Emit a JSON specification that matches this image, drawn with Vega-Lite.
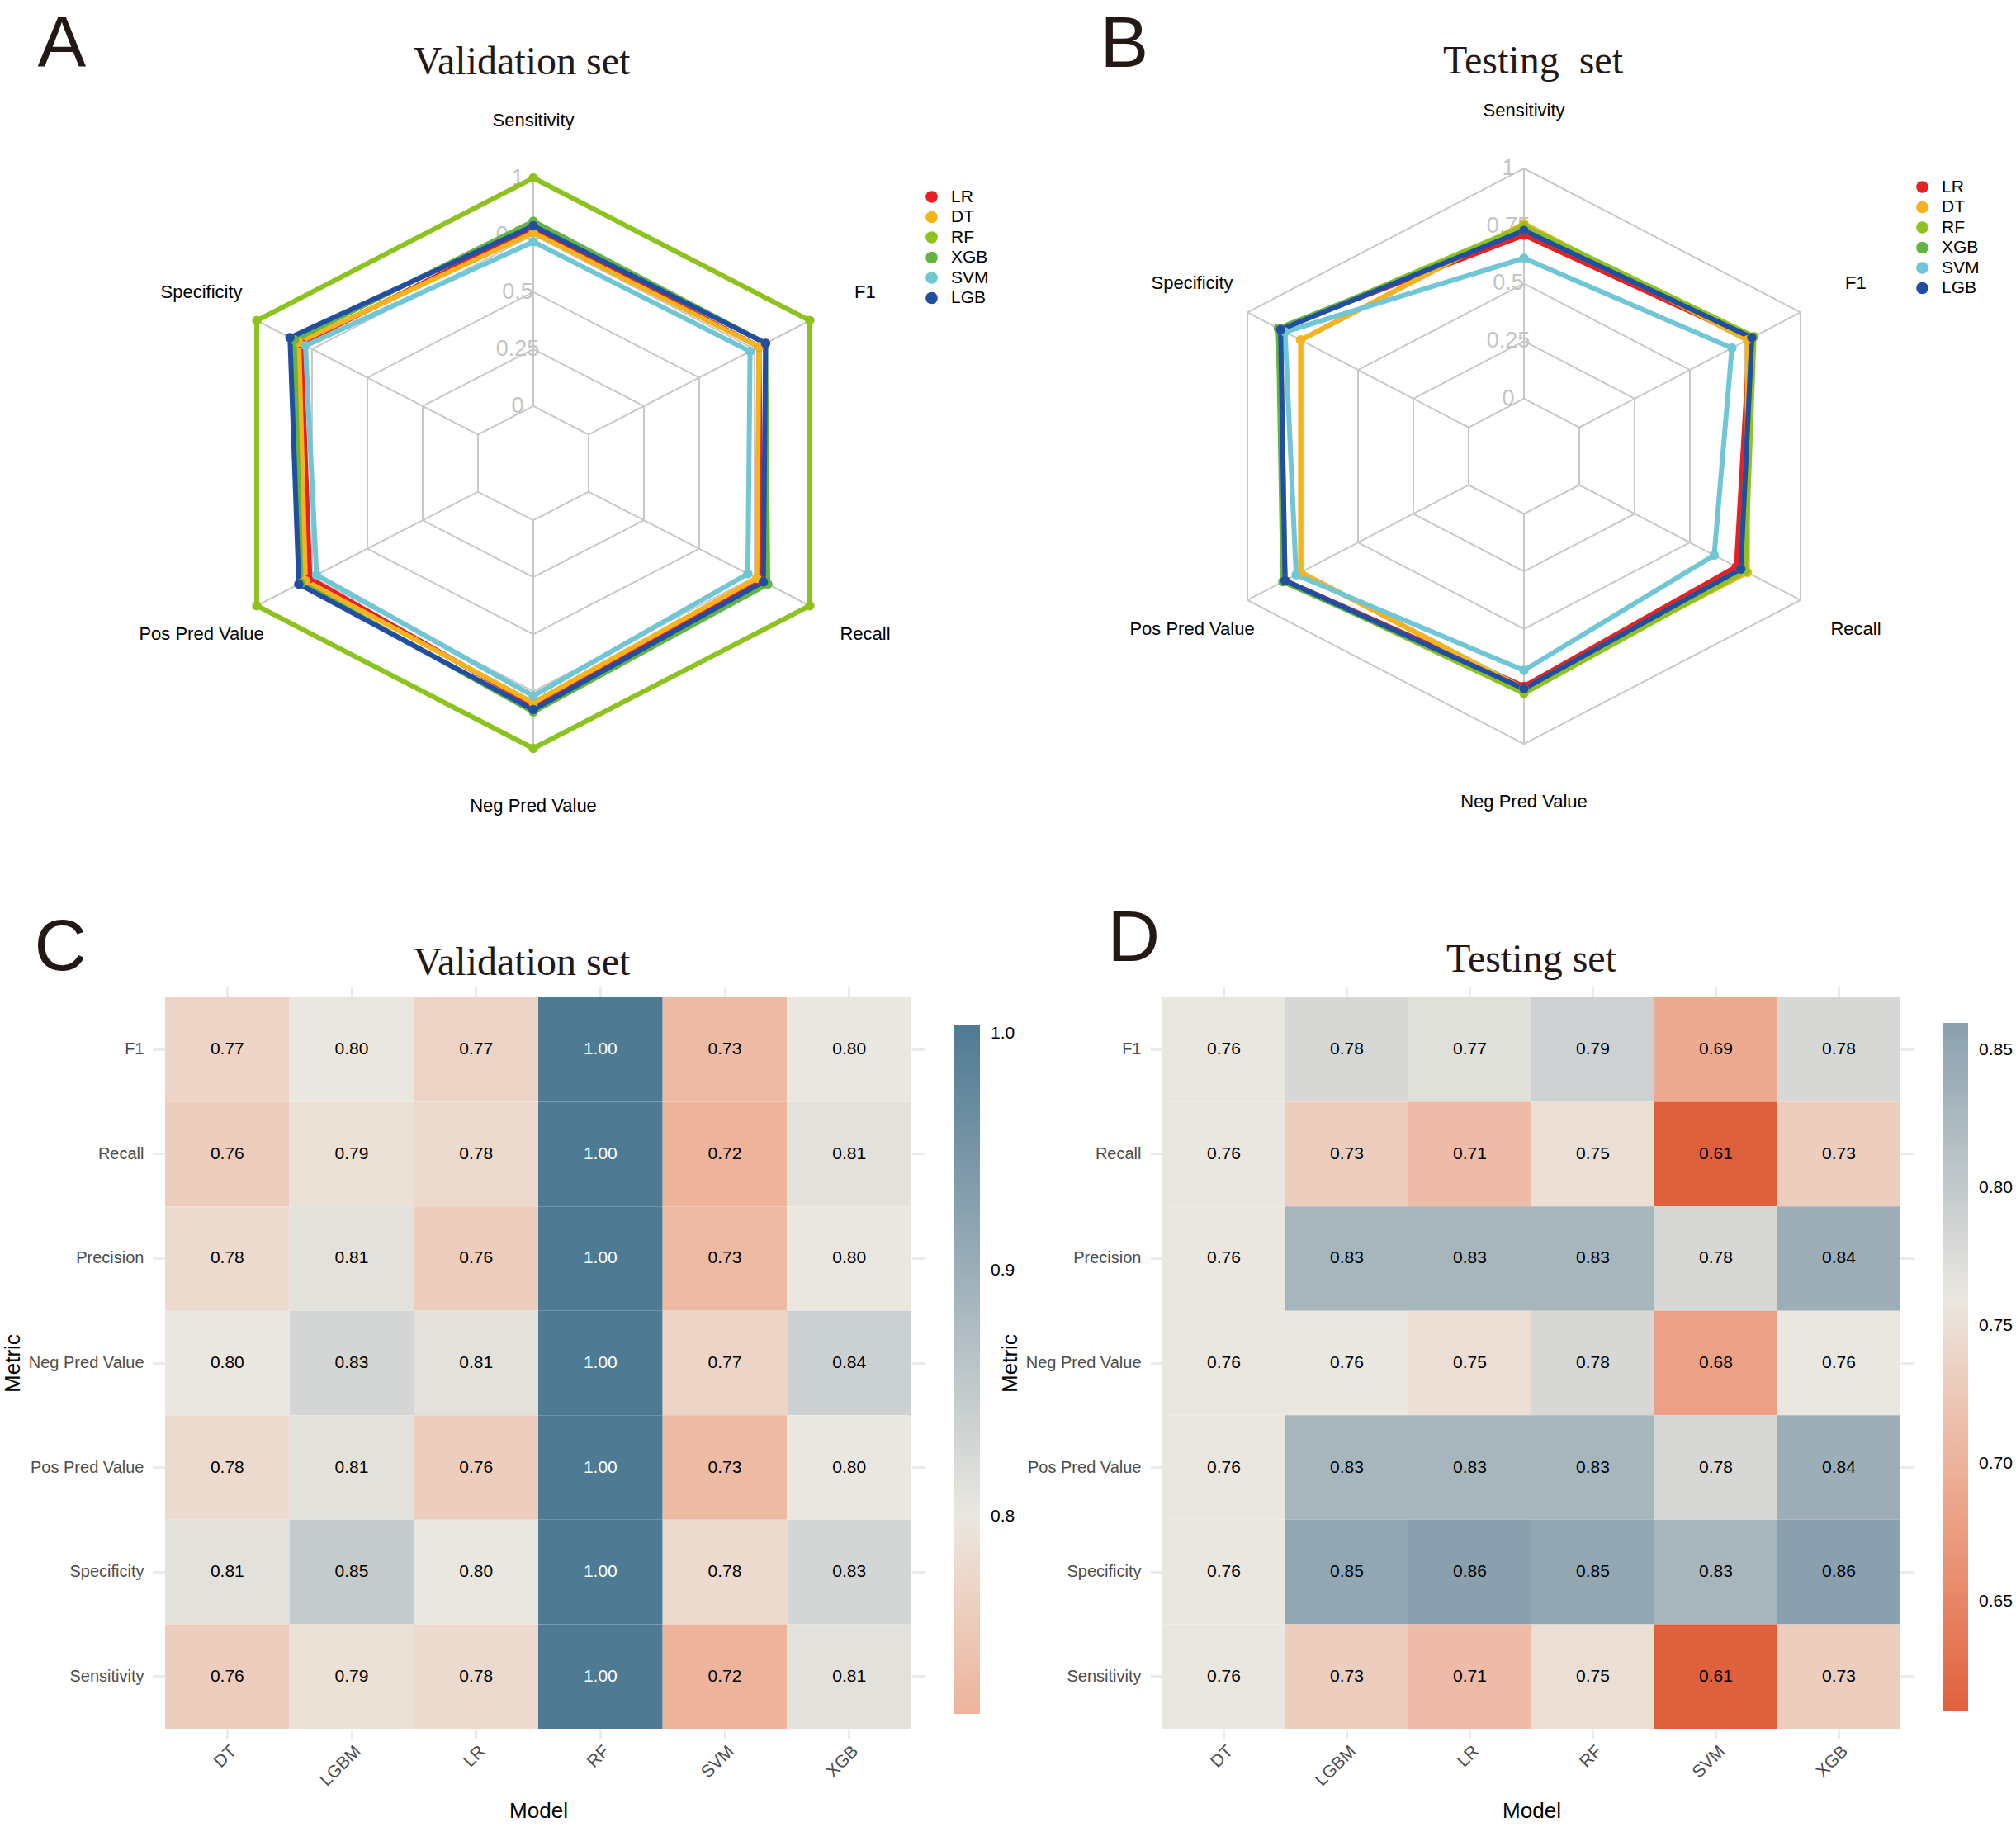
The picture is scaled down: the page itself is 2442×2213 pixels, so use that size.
{
  "$schema": "https://vega.github.io/schema/vega-lite/v6.json",
  "background": "white",
  "padding": {"left": 2, "top": 10, "right": 0, "bottom": 0},
  "datasets": {
    "axes": [
      {"metric": "Sensitivity", "levels": [0, 0.25, 0.5, 0.75, 1]},
      {"metric": "F1", "levels": [0, 0.25, 0.5, 0.75, 1]},
      {"metric": "Recall", "levels": [0, 0.25, 0.5, 0.75, 1]},
      {"metric": "Neg Pred Value", "levels": [0, 0.25, 0.5, 0.75, 1]},
      {"metric": "Pos Pred Value", "levels": [0, 0.25, 0.5, 0.75, 1]},
      {"metric": "Specificity", "levels": [0, 0.25, 0.5, 0.75, 1]}
    ],
    "radarVal": [
      {"model": "LR", "metric": "Sensitivity", "value": 0.78},
      {"model": "LR", "metric": "F1", "value": 0.77},
      {"model": "LR", "metric": "Recall", "value": 0.78},
      {"model": "LR", "metric": "Neg Pred Value", "value": 0.81},
      {"model": "LR", "metric": "Pos Pred Value", "value": 0.76},
      {"model": "LR", "metric": "Specificity", "value": 0.80},
      {"model": "DT", "metric": "Sensitivity", "value": 0.76},
      {"model": "DT", "metric": "F1", "value": 0.77},
      {"model": "DT", "metric": "Recall", "value": 0.76},
      {"model": "DT", "metric": "Neg Pred Value", "value": 0.80},
      {"model": "DT", "metric": "Pos Pred Value", "value": 0.78},
      {"model": "DT", "metric": "Specificity", "value": 0.81},
      {"model": "RF", "metric": "Sensitivity", "value": 1.0},
      {"model": "RF", "metric": "F1", "value": 1.0},
      {"model": "RF", "metric": "Recall", "value": 1.0},
      {"model": "RF", "metric": "Neg Pred Value", "value": 1.0},
      {"model": "RF", "metric": "Pos Pred Value", "value": 1.0},
      {"model": "RF", "metric": "Specificity", "value": 1.0},
      {"model": "XGB", "metric": "Sensitivity", "value": 0.81},
      {"model": "XGB", "metric": "F1", "value": 0.80},
      {"model": "XGB", "metric": "Recall", "value": 0.81},
      {"model": "XGB", "metric": "Neg Pred Value", "value": 0.84},
      {"model": "XGB", "metric": "Pos Pred Value", "value": 0.80},
      {"model": "XGB", "metric": "Specificity", "value": 0.83},
      {"model": "SVM", "metric": "Sensitivity", "value": 0.72},
      {"model": "SVM", "metric": "F1", "value": 0.73},
      {"model": "SVM", "metric": "Recall", "value": 0.72},
      {"model": "SVM", "metric": "Neg Pred Value", "value": 0.77},
      {"model": "SVM", "metric": "Pos Pred Value", "value": 0.73},
      {"model": "SVM", "metric": "Specificity", "value": 0.78},
      {"model": "LGB", "metric": "Sensitivity", "value": 0.79},
      {"model": "LGB", "metric": "F1", "value": 0.80},
      {"model": "LGB", "metric": "Recall", "value": 0.79},
      {"model": "LGB", "metric": "Neg Pred Value", "value": 0.83},
      {"model": "LGB", "metric": "Pos Pred Value", "value": 0.81},
      {"model": "LGB", "metric": "Specificity", "value": 0.85}
    ],
    "radarTest": [
      {"model": "LR", "metric": "Sensitivity", "value": 0.71},
      {"model": "LR", "metric": "F1", "value": 0.77},
      {"model": "LR", "metric": "Recall", "value": 0.71},
      {"model": "LR", "metric": "Neg Pred Value", "value": 0.75},
      {"model": "LR", "metric": "Pos Pred Value", "value": 0.83},
      {"model": "LR", "metric": "Specificity", "value": 0.86},
      {"model": "DT", "metric": "Sensitivity", "value": 0.76},
      {"model": "DT", "metric": "F1", "value": 0.76},
      {"model": "DT", "metric": "Recall", "value": 0.76},
      {"model": "DT", "metric": "Neg Pred Value", "value": 0.76},
      {"model": "DT", "metric": "Pos Pred Value", "value": 0.76},
      {"model": "DT", "metric": "Specificity", "value": 0.76},
      {"model": "RF", "metric": "Sensitivity", "value": 0.75},
      {"model": "RF", "metric": "F1", "value": 0.79},
      {"model": "RF", "metric": "Recall", "value": 0.75},
      {"model": "RF", "metric": "Neg Pred Value", "value": 0.78},
      {"model": "RF", "metric": "Pos Pred Value", "value": 0.83},
      {"model": "RF", "metric": "Specificity", "value": 0.85},
      {"model": "XGB", "metric": "Sensitivity", "value": 0.73},
      {"model": "XGB", "metric": "F1", "value": 0.78},
      {"model": "XGB", "metric": "Recall", "value": 0.73},
      {"model": "XGB", "metric": "Neg Pred Value", "value": 0.76},
      {"model": "XGB", "metric": "Pos Pred Value", "value": 0.84},
      {"model": "XGB", "metric": "Specificity", "value": 0.86},
      {"model": "SVM", "metric": "Sensitivity", "value": 0.61},
      {"model": "SVM", "metric": "F1", "value": 0.69},
      {"model": "SVM", "metric": "Recall", "value": 0.61},
      {"model": "SVM", "metric": "Neg Pred Value", "value": 0.68},
      {"model": "SVM", "metric": "Pos Pred Value", "value": 0.78},
      {"model": "SVM", "metric": "Specificity", "value": 0.83},
      {"model": "LGB", "metric": "Sensitivity", "value": 0.73},
      {"model": "LGB", "metric": "F1", "value": 0.78},
      {"model": "LGB", "metric": "Recall", "value": 0.73},
      {"model": "LGB", "metric": "Neg Pred Value", "value": 0.76},
      {"model": "LGB", "metric": "Pos Pred Value", "value": 0.83},
      {"model": "LGB", "metric": "Specificity", "value": 0.85}
    ],
    "heatVal": [
      {"model": "DT", "metric": "F1", "value": 0.77},
      {"model": "LGBM", "metric": "F1", "value": 0.80},
      {"model": "LR", "metric": "F1", "value": 0.77},
      {"model": "RF", "metric": "F1", "value": 1.00},
      {"model": "SVM", "metric": "F1", "value": 0.73},
      {"model": "XGB", "metric": "F1", "value": 0.80},
      {"model": "DT", "metric": "Recall", "value": 0.76},
      {"model": "LGBM", "metric": "Recall", "value": 0.79},
      {"model": "LR", "metric": "Recall", "value": 0.78},
      {"model": "RF", "metric": "Recall", "value": 1.00},
      {"model": "SVM", "metric": "Recall", "value": 0.72},
      {"model": "XGB", "metric": "Recall", "value": 0.81},
      {"model": "DT", "metric": "Precision", "value": 0.78},
      {"model": "LGBM", "metric": "Precision", "value": 0.81},
      {"model": "LR", "metric": "Precision", "value": 0.76},
      {"model": "RF", "metric": "Precision", "value": 1.00},
      {"model": "SVM", "metric": "Precision", "value": 0.73},
      {"model": "XGB", "metric": "Precision", "value": 0.80},
      {"model": "DT", "metric": "Neg Pred Value", "value": 0.80},
      {"model": "LGBM", "metric": "Neg Pred Value", "value": 0.83},
      {"model": "LR", "metric": "Neg Pred Value", "value": 0.81},
      {"model": "RF", "metric": "Neg Pred Value", "value": 1.00},
      {"model": "SVM", "metric": "Neg Pred Value", "value": 0.77},
      {"model": "XGB", "metric": "Neg Pred Value", "value": 0.84},
      {"model": "DT", "metric": "Pos Pred Value", "value": 0.78},
      {"model": "LGBM", "metric": "Pos Pred Value", "value": 0.81},
      {"model": "LR", "metric": "Pos Pred Value", "value": 0.76},
      {"model": "RF", "metric": "Pos Pred Value", "value": 1.00},
      {"model": "SVM", "metric": "Pos Pred Value", "value": 0.73},
      {"model": "XGB", "metric": "Pos Pred Value", "value": 0.80},
      {"model": "DT", "metric": "Specificity", "value": 0.81},
      {"model": "LGBM", "metric": "Specificity", "value": 0.85},
      {"model": "LR", "metric": "Specificity", "value": 0.80},
      {"model": "RF", "metric": "Specificity", "value": 1.00},
      {"model": "SVM", "metric": "Specificity", "value": 0.78},
      {"model": "XGB", "metric": "Specificity", "value": 0.83},
      {"model": "DT", "metric": "Sensitivity", "value": 0.76},
      {"model": "LGBM", "metric": "Sensitivity", "value": 0.79},
      {"model": "LR", "metric": "Sensitivity", "value": 0.78},
      {"model": "RF", "metric": "Sensitivity", "value": 1.00},
      {"model": "SVM", "metric": "Sensitivity", "value": 0.72},
      {"model": "XGB", "metric": "Sensitivity", "value": 0.81}
    ],
    "heatTest": [
      {"model": "DT", "metric": "F1", "value": 0.76},
      {"model": "LGBM", "metric": "F1", "value": 0.78},
      {"model": "LR", "metric": "F1", "value": 0.77},
      {"model": "RF", "metric": "F1", "value": 0.79},
      {"model": "SVM", "metric": "F1", "value": 0.69},
      {"model": "XGB", "metric": "F1", "value": 0.78},
      {"model": "DT", "metric": "Recall", "value": 0.76},
      {"model": "LGBM", "metric": "Recall", "value": 0.73},
      {"model": "LR", "metric": "Recall", "value": 0.71},
      {"model": "RF", "metric": "Recall", "value": 0.75},
      {"model": "SVM", "metric": "Recall", "value": 0.61},
      {"model": "XGB", "metric": "Recall", "value": 0.73},
      {"model": "DT", "metric": "Precision", "value": 0.76},
      {"model": "LGBM", "metric": "Precision", "value": 0.83},
      {"model": "LR", "metric": "Precision", "value": 0.83},
      {"model": "RF", "metric": "Precision", "value": 0.83},
      {"model": "SVM", "metric": "Precision", "value": 0.78},
      {"model": "XGB", "metric": "Precision", "value": 0.84},
      {"model": "DT", "metric": "Neg Pred Value", "value": 0.76},
      {"model": "LGBM", "metric": "Neg Pred Value", "value": 0.76},
      {"model": "LR", "metric": "Neg Pred Value", "value": 0.75},
      {"model": "RF", "metric": "Neg Pred Value", "value": 0.78},
      {"model": "SVM", "metric": "Neg Pred Value", "value": 0.68},
      {"model": "XGB", "metric": "Neg Pred Value", "value": 0.76},
      {"model": "DT", "metric": "Pos Pred Value", "value": 0.76},
      {"model": "LGBM", "metric": "Pos Pred Value", "value": 0.83},
      {"model": "LR", "metric": "Pos Pred Value", "value": 0.83},
      {"model": "RF", "metric": "Pos Pred Value", "value": 0.83},
      {"model": "SVM", "metric": "Pos Pred Value", "value": 0.78},
      {"model": "XGB", "metric": "Pos Pred Value", "value": 0.84},
      {"model": "DT", "metric": "Specificity", "value": 0.76},
      {"model": "LGBM", "metric": "Specificity", "value": 0.85},
      {"model": "LR", "metric": "Specificity", "value": 0.86},
      {"model": "RF", "metric": "Specificity", "value": 0.85},
      {"model": "SVM", "metric": "Specificity", "value": 0.83},
      {"model": "XGB", "metric": "Specificity", "value": 0.86},
      {"model": "DT", "metric": "Sensitivity", "value": 0.76},
      {"model": "LGBM", "metric": "Sensitivity", "value": 0.73},
      {"model": "LR", "metric": "Sensitivity", "value": 0.71},
      {"model": "RF", "metric": "Sensitivity", "value": 0.75},
      {"model": "SVM", "metric": "Sensitivity", "value": 0.61},
      {"model": "XGB", "metric": "Sensitivity", "value": 0.73}
    ]
  },
  "columns": 2,
  "spacing": {"row": 208, "column": 304},
  "bounds": "flush",
  "concat": [
    {
      "width": 904,
      "height": 870,
      "title": {"text": "Validation set", "font": "Liberation Serif", "fontSize": 48, "fontWeight": "normal", "color": "#231815", "anchor": "middle", "frame": "group", "dx": -20, "dy": 128, "offset": 0, "baseline": "alphabetic"},
      "layer": [
        {
          "data": {"name": "axes"},
          "transform": [
            {"flatten": ["levels"], "as": ["level"]},
            {"calculate": "indexof(['Sensitivity','F1','Recall','Neg Pred Value','Pos Pred Value','Specificity'], datum.metric)", "as": "idx"},
            {"calculate": "(0.2+0.8*datum.level)*sin(datum.idx*PI/3)", "as": "px"},
            {"calculate": "(0.2+0.8*datum.level)*cos(datum.idx*PI/3)", "as": "py"}
          ],
          "mark": {"type": "line", "interpolate": "linear-closed", "stroke": "#c8c8c8", "strokeWidth": 2},
          "encoding": {
            "x": {"field": "px", "type": "quantitative", "scale": {"domain": [-1.1531, 1.1841], "nice": false, "zero": false},
              "axis": {"orient": "top", "title": "A", "labels": false, "ticks": true, "tickSize": 0, "tickOpacity": 0, "domain": false, "titleFont": "Liberation Sans", "titleFontSize": 88, "titleFontWeight": "normal", "titleColor": "#231815", "titleX": -155, "titleY": -50, "titleAlign": "left", "titleBaseline": "alphabetic", "titleAngle": 0}},
            "y": {"field": "py", "type": "quantitative", "scale": {"domain": [-1.2706, 1.2475], "nice": false, "zero": false}, "axis": null},
            "detail": {"field": "level", "type": "nominal"},
            "order": {"field": "idx", "type": "quantitative"}
          }
        },
        {
          "data": {"name": "axes"},
          "transform": [
            {"calculate": "indexof(['Sensitivity','F1','Recall','Neg Pred Value','Pos Pred Value','Specificity'], datum.metric)", "as": "idx"},
            {"calculate": "0.2*sin(datum.idx*PI/3)", "as": "px0"},
            {"calculate": "0.2*cos(datum.idx*PI/3)", "as": "py0"},
            {"calculate": "sin(datum.idx*PI/3)", "as": "px1"},
            {"calculate": "cos(datum.idx*PI/3)", "as": "py1"}
          ],
          "mark": {"type": "rule", "stroke": "#c8c8c8", "strokeWidth": 2},
          "encoding": {
            "x": {"field": "px0", "type": "quantitative", "axis": null},
            "y": {"field": "py0", "type": "quantitative", "axis": null},
            "x2": {"field": "px1"},
            "y2": {"field": "py1"}
          }
        },
        {
          "data": {"name": "axes"},
          "transform": [
            {"flatten": ["levels"], "as": ["level"]},
            {"calculate": "indexof(['Sensitivity','F1','Recall','Neg Pred Value','Pos Pred Value','Specificity'], datum.metric)", "as": "idx"},
            {"filter": "datum.idx == 0"},
            {"calculate": "0.2+0.8*datum.level", "as": "py"}
          ],
          "mark": {"type": "text", "dx": -19, "font": "Liberation Sans", "fontSize": 27, "color": "#c4c4c4", "align": "center", "baseline": "middle"},
          "encoding": {
            "x": {"datum": 0, "type": "quantitative", "axis": null},
            "y": {"field": "py", "type": "quantitative", "axis": null},
            "text": {"field": "level", "type": "quantitative", "format": "~g"}
          }
        },
        {
          "data": {"name": "radarVal"},
          "transform": [
            {"calculate": "indexof(['Sensitivity','F1','Recall','Neg Pred Value','Pos Pred Value','Specificity'], datum.metric)", "as": "idx"},
            {"calculate": "(0.2+0.8*datum.value)*sin(datum.idx*PI/3)", "as": "px"},
            {"calculate": "(0.2+0.8*datum.value)*cos(datum.idx*PI/3)", "as": "py"}
          ],
          "mark": {"type": "line", "interpolate": "linear-closed", "strokeWidth": 6},
          "encoding": {
            "x": {"field": "px", "type": "quantitative", "axis": null},
            "y": {"field": "py", "type": "quantitative", "axis": null},
            "color": {"field": "model", "type": "nominal", "scale": {"domain": ["LR", "DT", "RF", "XGB", "SVM", "LGB"], "range": ["#E82023", "#F5B31D", "#8DC21F", "#63B543", "#70C6D5", "#214EA0"]}},
            "order": {"field": "idx", "type": "quantitative"}
          }
        },
        {
          "data": {"name": "radarVal"},
          "transform": [
            {"calculate": "indexof(['Sensitivity','F1','Recall','Neg Pred Value','Pos Pred Value','Specificity'], datum.metric)", "as": "idx"},
            {"calculate": "(0.2+0.8*datum.value)*sin(datum.idx*PI/3)", "as": "px"},
            {"calculate": "(0.2+0.8*datum.value)*cos(datum.idx*PI/3)", "as": "py"}
          ],
          "mark": {"type": "point", "filled": true, "opacity": 1, "size": 130, "shape": "circle"},
          "encoding": {
            "x": {"field": "px", "type": "quantitative", "axis": null},
            "y": {"field": "py", "type": "quantitative", "axis": null},
            "color": {"field": "model", "type": "nominal", "legend": {"orient": "none", "legendX": 918, "legendY": 98, "title": null, "padding": 0, "symbolType": "circle", "symbolSize": 216, "symbolStrokeWidth": 0, "symbolOpacity": 1, "labelFont": "Liberation Sans", "labelFontSize": 21, "labelColor": "#000000", "labelOffset": 13, "rowPadding": 2.5}}
          }
        },
        {
          "data": {"name": "axes"},
          "transform": [
            {"calculate": "indexof(['Sensitivity','F1','Recall','Neg Pred Value','Pos Pred Value','Specificity'], datum.metric)", "as": "idx"},
            {"calculate": "1.2*sin(datum.idx*PI/3)", "as": "lx"},
            {"calculate": "1.2*cos(datum.idx*PI/3)", "as": "ly"}
          ],
          "mark": {"type": "text", "font": "Liberation Sans", "fontSize": 22, "color": "#000000", "align": "center", "baseline": "middle"},
          "encoding": {
            "x": {"field": "lx", "type": "quantitative", "axis": null},
            "y": {"field": "ly", "type": "quantitative", "axis": null},
            "text": {"field": "metric", "type": "nominal"}
          }
        }
      ],
      "resolve": {"axis": {"x": "independent", "y": "independent"}}
    },
    {
      "width": 904,
      "height": 870,
      "title": {"text": "Testing\u00a0 set", "font": "Liberation Serif", "fontSize": 48, "fontWeight": "normal", "color": "#231815", "anchor": "middle", "frame": "group", "dx": -3, "dy": 127, "offset": 0, "baseline": "alphabetic"},
      "layer": [
        {
          "data": {"name": "axes"},
          "transform": [
            {"flatten": ["levels"], "as": ["level"]},
            {"calculate": "indexof(['Sensitivity','F1','Recall','Neg Pred Value','Pos Pred Value','Specificity'], datum.metric)", "as": "idx"},
            {"calculate": "(0.2+0.8*datum.level)*sin(datum.idx*PI/3)", "as": "px"},
            {"calculate": "(0.2+0.8*datum.level)*cos(datum.idx*PI/3)", "as": "py"}
          ],
          "mark": {"type": "line", "interpolate": "linear-closed", "stroke": "#c8c8c8", "strokeWidth": 2},
          "encoding": {
            "x": {"field": "px", "type": "quantitative", "scale": {"domain": [-1.1324, 1.2048], "nice": false, "zero": false},
              "axis": {"orient": "top", "title": "B", "labels": false, "ticks": true, "tickSize": 0, "tickOpacity": 0, "domain": false, "titleFont": "Liberation Sans", "titleFontSize": 88, "titleFontWeight": "normal", "titleColor": "#231815", "titleX": -76, "titleY": -50, "titleAlign": "left", "titleBaseline": "alphabetic", "titleAngle": 0}},
            "y": {"field": "py", "type": "quantitative", "scale": {"domain": [-1.2834, 1.2123], "nice": false, "zero": false}, "axis": null},
            "detail": {"field": "level", "type": "nominal"},
            "order": {"field": "idx", "type": "quantitative"}
          }
        },
        {
          "data": {"name": "axes"},
          "transform": [
            {"calculate": "indexof(['Sensitivity','F1','Recall','Neg Pred Value','Pos Pred Value','Specificity'], datum.metric)", "as": "idx"},
            {"calculate": "0.2*sin(datum.idx*PI/3)", "as": "px0"},
            {"calculate": "0.2*cos(datum.idx*PI/3)", "as": "py0"},
            {"calculate": "sin(datum.idx*PI/3)", "as": "px1"},
            {"calculate": "cos(datum.idx*PI/3)", "as": "py1"}
          ],
          "mark": {"type": "rule", "stroke": "#c8c8c8", "strokeWidth": 2},
          "encoding": {
            "x": {"field": "px0", "type": "quantitative", "axis": null},
            "y": {"field": "py0", "type": "quantitative", "axis": null},
            "x2": {"field": "px1"},
            "y2": {"field": "py1"}
          }
        },
        {
          "data": {"name": "axes"},
          "transform": [
            {"flatten": ["levels"], "as": ["level"]},
            {"calculate": "indexof(['Sensitivity','F1','Recall','Neg Pred Value','Pos Pred Value','Specificity'], datum.metric)", "as": "idx"},
            {"filter": "datum.idx == 0"},
            {"calculate": "0.2+0.8*datum.level", "as": "py"}
          ],
          "mark": {"type": "text", "dx": -19, "font": "Liberation Sans", "fontSize": 27, "color": "#c4c4c4", "align": "center", "baseline": "middle"},
          "encoding": {
            "x": {"datum": 0, "type": "quantitative", "axis": null},
            "y": {"field": "py", "type": "quantitative", "axis": null},
            "text": {"field": "level", "type": "quantitative", "format": "~g"}
          }
        },
        {
          "data": {"name": "radarTest"},
          "transform": [
            {"calculate": "indexof(['Sensitivity','F1','Recall','Neg Pred Value','Pos Pred Value','Specificity'], datum.metric)", "as": "idx"},
            {"calculate": "(0.2+0.8*datum.value)*sin(datum.idx*PI/3)", "as": "px"},
            {"calculate": "(0.2+0.8*datum.value)*cos(datum.idx*PI/3)", "as": "py"}
          ],
          "mark": {"type": "line", "interpolate": "linear-closed", "strokeWidth": 6},
          "encoding": {
            "x": {"field": "px", "type": "quantitative", "axis": null},
            "y": {"field": "py", "type": "quantitative", "axis": null},
            "color": {"field": "model", "type": "nominal", "scale": {"domain": ["LR", "DT", "RF", "XGB", "SVM", "LGB"], "range": ["#E82023", "#F5B31D", "#8DC21F", "#63B543", "#70C6D5", "#214EA0"]}},
            "order": {"field": "idx", "type": "quantitative"}
          }
        },
        {
          "data": {"name": "radarTest"},
          "transform": [
            {"calculate": "indexof(['Sensitivity','F1','Recall','Neg Pred Value','Pos Pred Value','Specificity'], datum.metric)", "as": "idx"},
            {"calculate": "(0.2+0.8*datum.value)*sin(datum.idx*PI/3)", "as": "px"},
            {"calculate": "(0.2+0.8*datum.value)*cos(datum.idx*PI/3)", "as": "py"}
          ],
          "mark": {"type": "point", "filled": true, "opacity": 1, "size": 130, "shape": "circle"},
          "encoding": {
            "x": {"field": "px", "type": "quantitative", "axis": null},
            "y": {"field": "py", "type": "quantitative", "axis": null},
            "color": {"field": "model", "type": "nominal", "legend": {"orient": "none", "legendX": 910, "legendY": 86, "title": null, "padding": 0, "symbolType": "circle", "symbolSize": 216, "symbolStrokeWidth": 0, "symbolOpacity": 1, "labelFont": "Liberation Sans", "labelFontSize": 21, "labelColor": "#000000", "labelOffset": 13, "rowPadding": 2.5}}
          }
        },
        {
          "data": {"name": "axes"},
          "transform": [
            {"calculate": "indexof(['Sensitivity','F1','Recall','Neg Pred Value','Pos Pred Value','Specificity'], datum.metric)", "as": "idx"},
            {"calculate": "1.2*sin(datum.idx*PI/3)", "as": "lx"},
            {"calculate": "1.2*cos(datum.idx*PI/3)", "as": "ly"}
          ],
          "mark": {"type": "text", "font": "Liberation Sans", "fontSize": 22, "color": "#000000", "align": "center", "baseline": "middle"},
          "encoding": {
            "x": {"field": "lx", "type": "quantitative", "axis": null},
            "y": {"field": "ly", "type": "quantitative", "axis": null},
            "text": {"field": "metric", "type": "nominal"}
          }
        }
      ],
      "resolve": {"axis": {"x": "independent", "y": "independent"}}
    },
    {
      "width": 904,
      "height": 886,
      "data": {"name": "heatVal"},
      "title": {"text": "Validation set", "font": "Liberation Serif", "fontSize": 48, "fontWeight": "normal", "color": "#231815", "anchor": "middle", "frame": "group", "dx": -20, "dy": 125, "offset": 0, "baseline": "alphabetic"},
      "layer": [
        {
          "mark": {"type": "rect"},
          "encoding": {
            "x": {"field": "model", "type": "nominal", "sort": ["DT", "LGBM", "LR", "RF", "SVM", "XGB"], "scale": {"paddingInner": 0, "paddingOuter": 0},
              "axis": {"orient": "bottom", "title": "Model", "labelAngle": -45, "labelAlign": "right", "labelBaseline": "top", "labelPadding": 4, "tickSize": 12, "tickWidth": 3, "tickColor": "#ebebeb", "domain": false, "labelFont": "Liberation Sans", "labelFontSize": 21, "labelColor": "#4d4d4d", "titleFont": "Liberation Sans", "titleFontSize": 26, "titleFontWeight": "normal", "titleColor": "#000000", "titlePadding": 14}},
            "y": {"field": "metric", "type": "nominal", "sort": ["F1", "Recall", "Precision", "Neg Pred Value", "Pos Pred Value", "Specificity", "Sensitivity"], "scale": {"paddingInner": 0, "paddingOuter": 0},
              "axis": {"orient": "left", "title": "Metric", "tickSize": 15, "tickWidth": 3, "tickColor": "#ebebeb", "domain": false, "labelPadding": 11, "labelFont": "Liberation Sans", "labelFontSize": 20, "labelColor": "#4d4d4d", "titleFont": "Liberation Sans", "titleFontSize": 26, "titleFontWeight": "normal", "titleColor": "#000000", "titlePadding": 6}},
            "color": {"field": "value", "type": "quantitative", "scale": {"domain": [0.72, 0.8, 1.0], "range": ["#EDB39B", "#EAE7E0", "#4E7A93"], "interpolate": "lab"},
              "legend": {"orient": "none", "legendX": 956, "legendY": 33, "title": null, "padding": 0, "gradientLength": 835, "gradientThickness": 31, "gradientStrokeWidth": 0, "values": [0.8, 0.9, 1.0], "format": ".1f", "labelFont": "Liberation Sans", "labelFontSize": 21, "labelColor": "#000000", "labelOffset": 13, "labelBaseline": "middle"}}
          }
        },
        {
          "mark": {"type": "text", "font": "Liberation Sans", "fontSize": 21},
          "encoding": {
            "x": {"field": "model", "type": "nominal", "sort": ["DT", "LGBM", "LR", "RF", "SVM", "XGB"],
              "axis": {"orient": "top", "labels": false, "domain": false, "tickSize": 13, "tickWidth": 3, "tickColor": "#ebebeb", "title": "C", "titleFont": "Liberation Sans", "titleFontSize": 88, "titleFontWeight": "normal", "titleColor": "#231815", "titleX": -159, "titleY": -34, "titleAlign": "left", "titleBaseline": "alphabetic", "titleAngle": 0}},
            "y": {"field": "metric", "type": "nominal", "sort": ["F1", "Recall", "Precision", "Neg Pred Value", "Pos Pred Value", "Specificity", "Sensitivity"], "axis": {"orient": "right", "labels": false, "title": null, "domain": false, "tickSize": 16, "tickWidth": 3, "tickColor": "#ebebeb"}},
            "text": {"field": "value", "type": "quantitative", "format": ".2f"},
            "color": {"condition": {"test": "datum.value > 0.95", "value": "#ffffff"}, "value": "#000000"}
          }
        }
      ],
      "resolve": {"axis": {"x": "independent", "y": "independent"}}
    },
    {
      "width": 894,
      "height": 886,
      "data": {"name": "heatTest"},
      "title": {"text": "Testing set", "font": "Liberation Serif", "fontSize": 48, "fontWeight": "normal", "color": "#231815", "anchor": "middle", "frame": "group", "dx": 0, "dy": 131.5, "offset": 0, "baseline": "alphabetic"},
      "layer": [
        {
          "mark": {"type": "rect"},
          "encoding": {
            "x": {"field": "model", "type": "nominal", "sort": ["DT", "LGBM", "LR", "RF", "SVM", "XGB"], "scale": {"paddingInner": 0, "paddingOuter": 0},
              "axis": {"orient": "bottom", "title": "Model", "labelAngle": -45, "labelAlign": "right", "labelBaseline": "top", "labelPadding": 4, "tickSize": 12, "tickWidth": 3, "tickColor": "#ebebeb", "domain": false, "labelFont": "Liberation Sans", "labelFontSize": 21, "labelColor": "#4d4d4d", "titleFont": "Liberation Sans", "titleFontSize": 26, "titleFontWeight": "normal", "titleColor": "#000000", "titlePadding": 14}},
            "y": {"field": "metric", "type": "nominal", "sort": ["F1", "Recall", "Precision", "Neg Pred Value", "Pos Pred Value", "Specificity", "Sensitivity"], "scale": {"paddingInner": 0, "paddingOuter": 0},
              "axis": {"orient": "left", "title": "Metric", "tickSize": 15, "tickWidth": 3, "tickColor": "#ebebeb", "domain": false, "labelPadding": 11, "labelFont": "Liberation Sans", "labelFontSize": 20, "labelColor": "#4d4d4d", "titleFont": "Liberation Sans", "titleFontSize": 26, "titleFontWeight": "normal", "titleColor": "#000000", "titlePadding": 6}},
            "color": {"field": "value", "type": "quantitative", "scale": {"domain": [0.61, 0.76, 0.86], "range": ["#DF603D", "#EAE7E0", "#8AA0AE"], "interpolate": "lab"},
              "legend": {"orient": "none", "legendX": 945, "legendY": 31, "title": null, "padding": 0, "gradientLength": 834, "gradientThickness": 31, "gradientStrokeWidth": 0, "values": [0.65, 0.7, 0.75, 0.8, 0.85], "format": ".2f", "labelFont": "Liberation Sans", "labelFontSize": 21, "labelColor": "#000000", "labelOffset": 13, "labelBaseline": "middle"}}
          }
        },
        {
          "mark": {"type": "text", "font": "Liberation Sans", "fontSize": 21, "color": "#000000"},
          "encoding": {
            "x": {"field": "model", "type": "nominal", "sort": ["DT", "LGBM", "LR", "RF", "SVM", "XGB"],
              "axis": {"orient": "top", "labels": false, "domain": false, "tickSize": 13, "tickWidth": 3, "tickColor": "#ebebeb", "title": "D", "titleFont": "Liberation Sans", "titleFontSize": 88, "titleFontWeight": "normal", "titleColor": "#231815", "titleX": -67, "titleY": -45, "titleAlign": "left", "titleBaseline": "alphabetic", "titleAngle": 0}},
            "y": {"field": "metric", "type": "nominal", "sort": ["F1", "Recall", "Precision", "Neg Pred Value", "Pos Pred Value", "Specificity", "Sensitivity"], "axis": {"orient": "right", "labels": false, "title": null, "domain": false, "tickSize": 16, "tickWidth": 3, "tickColor": "#ebebeb"}},
            "text": {"field": "value", "type": "quantitative", "format": ".2f"}
          }
        }
      ],
      "resolve": {"axis": {"x": "independent", "y": "independent"}}
    }
  ],
  "config": {
    "view": {"stroke": null},
    "font": "Liberation Sans",
    "axis": {"grid": false}
  }
}
